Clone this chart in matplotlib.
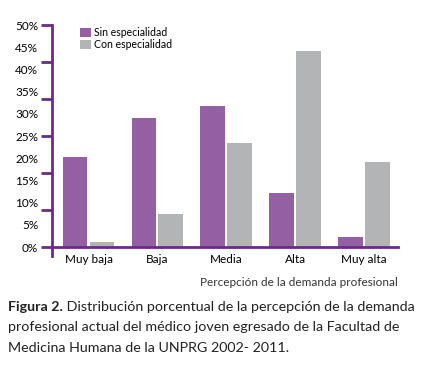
import numpy as np
import matplotlib.pyplot as plt

categories = ["Muy baja", "Baja", "Media", "Alta", "Muy alta"]
sin_especialidad = [20.3, 29.1, 31.8, 12.2, 2.2]
con_especialidad = [1.1, 7.4, 23.4, 44.1, 19.1]
series_names = ["Sin especialidad", "Con especialidad"]
y_labels = [0, 5, 10, 15, 20, 25, 30, 35, 40, 45, 50]

purple = "#9460a3"
gray = "#b3b4b6"
spine_color = "#6c2a88"

plt.rcParams["font.family"] = ["Lato", "DejaVu Sans"]

fig = plt.figure(figsize=(4.27, 3.76), dpi=100)
ax = fig.add_axes([0.1218, 0.319, 0.81, 0.6145])

x = np.arange(len(categories))
w = 0.36
ax.bar(x - w / 2 - 0.015, sin_especialidad, w, color=purple, label=series_names[0])
ax.bar(x + w / 2 + 0.015, con_especialidad, w, color=gray, label=series_names[1])

ax.set_xlim(-0.53, 4.49)
ax.set_ylim(-2, 50)

for s in ["top", "right"]:
    ax.spines[s].set_visible(False)
ax.spines["bottom"].set_position(("data", 0))
for s in ["left", "bottom"]:
    ax.spines[s].set_color(spine_color)
    ax.spines[s].set_linewidth(2)
ax.spines["left"].set_bounds(-2, 50)

# marks every 50/6 %, labels every 5 %
ax.yaxis.remove_overlapping_locs = False
ax.set_yticks(np.linspace(0, 50, 7))
ax.set_yticklabels([])
ax.tick_params(axis="y", which="major", length=8, width=2, color=spine_color)
ax.set_yticks(y_labels, minor=True)
ax.set_yticklabels([f"{v}%" for v in y_labels], minor=True, fontsize=8.5)
ax.tick_params(axis="y", which="minor", length=0, pad=10)

ax.set_xticks(x)
ax.set_xticklabels(categories, fontsize=8.5)
ax.tick_params(axis="x", length=0, pad=5)

ax.text(1.0, -0.113, "Percepción de la demanda profesional", transform=ax.transAxes,
        ha="right", va="center", fontsize=8.5, color="#333333")

ax.legend(loc="upper left", bbox_to_anchor=(0.07, 1.01), frameon=False, fontsize=7.6,
          handlelength=1.0, handleheight=1.0, handletextpad=0.3, labelspacing=0.1,
          borderaxespad=0)

bold = fig.text(0.019, 1 - 307 / 376, "Figura 2.", fontsize=10.3, fontweight="bold",
                va="center", color="#222222")
ax.annotate(" Distribución porcentual de la percepción de la demanda", xy=(1, 0.5),
            xycoords=bold, va="center", ha="left", fontsize=10.3, color="#222222",
            annotation_clip=False)
fig.text(0.019, 1 - 327 / 376, "profesional actual del médico joven egresado de la Facultad de",
         fontsize=10.3, va="center", color="#222222")
fig.text(0.019, 1 - 348 / 376, "Medicina Humana de la UNPRG 2002- 2011.",
         fontsize=10.3, va="center", color="#222222")

fig.savefig("out.png", dpi=100)
